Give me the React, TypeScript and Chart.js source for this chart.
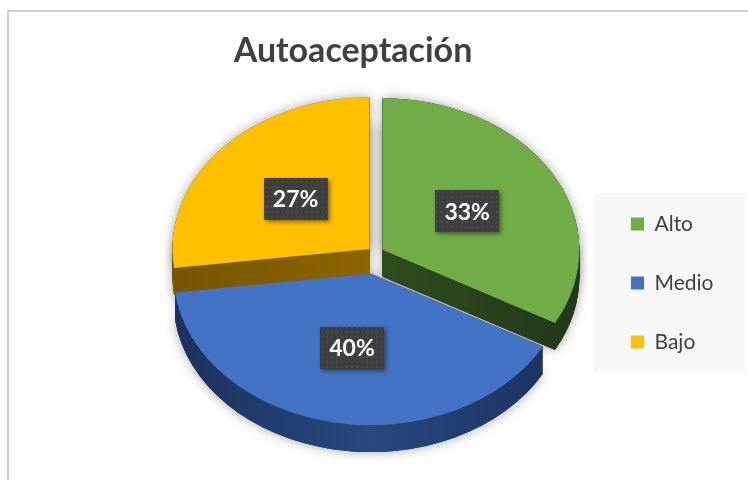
import React, { useEffect, useRef } from "react";
import { Chart, registerables } from "chart.js";

Chart.register(...registerables);

// ---- data ----
const chartTitle = "Autoaceptación";
const categories = ["Alto", "Medio", "Bajo"];
const values = [33, 40, 27];

// ---- styles ----
const topColors = ["#70AD47", "#4472C4", "#FFC000"];
const sideColors = ["#2F4C1D", "#28487F", "#8C6500"];
const sideEdgeColors = ["#22381A", "#1B315E", "#765400"];
const explodePx = [8, 27, 8];
const FONT = "Lato, 'Open Sans', sans-serif";

const legendPanel = {
  id: "legendPanel",
  beforeDraw(chart: any, _a: any, o: any) {
    const lg = chart.legend;
    if (!lg || !lg.legendHitBoxes || !lg.legendHitBoxes.length) return;
    const hb = lg.legendHitBoxes;
    const first = hb[0];
    const last = hb[hb.length - 1];
    const ctx = chart.ctx;
    const x0 = lg.left + o.inset;
    const y0 = first.top - o.padY;
    const y1 = last.top + last.height + o.padY;
    ctx.save();
    ctx.fillStyle = o.color;
    ctx.fillRect(x0, y0, chart.width - o.rightGap - x0, y1 - y0);
    ctx.restore();
  },
};

const fixedTitle = {
  id: "fixedTitle",
  afterDraw(chart: any, _a: any, o: any) {
    const ctx = chart.ctx;
    ctx.save();
    ctx.font = `bold ${o.size}px ${FONT}`;
    ctx.fillStyle = o.color;
    ctx.textAlign = "center";
    ctx.textBaseline = "alphabetic";
    ctx.fillText(o.text, o.x, o.y);
    ctx.restore();
  },
};

let dotPattern: CanvasPattern | null = null;
function getPattern(ctx: CanvasRenderingContext2D) {
  if (dotPattern) return dotPattern;
  const c = document.createElement("canvas");
  c.width = 5;
  c.height = 5;
  const p = c.getContext("2d")!;
  p.fillStyle = "#3E3E3E";
  p.fillRect(0, 0, 5, 5);
  p.fillStyle = "#484848";
  p.fillRect(1, 1, 2, 2);
  dotPattern = ctx.createPattern(c, "repeat");
  return dotPattern;
}

const pie3d = {
  id: "pie3d",
  beforeDatasetsDraw(chart: any, _args: any, o: any) {
    const meta = chart.getDatasetMeta(0);
    const arcs: any[] = meta.data as any[];
    if (!arcs.length) return;
    const ctx: CanvasRenderingContext2D = chart.ctx;
    const cx = arcs[0].x;
    const cy = arcs[0].y;
    const R = arcs[0].outerRadius;
    const midOf = (a: any) => (a.startAngle + a.endAngle) / 2;
    const shiftOf = (a: any, i: number) => [
      Math.cos(midOf(a)) * o.explode[i],
      Math.sin(midOf(a)) * o.explode[i],
    ];
    const project = (px: number, py: number, a: any, i: number) => {
      const [ex, ey] = shiftOf(a, i);
      return [px + ex, cy + (py + ey - cy) * o.squash];
    };
    const paint = (a: any, i: number, dy: number, fill: any, shadow: boolean) => {
      const [ex, ey] = shiftOf(a, i);
      ctx.save();
      if (shadow) {
        ctx.shadowColor = o.shadowColor;
        ctx.shadowBlur = o.shadowBlur;
      }
      ctx.translate(cx, cy + dy);
      ctx.scale(1, o.squash);
      ctx.translate(ex - cx, ey - cy);
      const orig = a.options;
      a.options = { ...orig, backgroundColor: fill, borderWidth: 0, offset: 0, spacing: 0 };
      a.draw(ctx);
      a.options = orig;
      ctx.restore();
    };
    const order = arcs
      .map((_, i) => i)
      .sort((p, q) => Math.sin(midOf(arcs[p])) - Math.sin(midOf(arcs[q])));
    const sideFills = arcs.map((_, i) => {
      const g = ctx.createLinearGradient(cx - R, 0, cx + R, 0);
      g.addColorStop(0, o.sideEdge[i]);
      g.addColorStop(0.5, o.side[i]);
      g.addColorStop(1, o.sideEdge[i]);
      return g;
    });

    // soft shadow
    order.forEach((i) => {
      paint(arcs[i], i, o.depth, o.side[i], true);
      paint(arcs[i], i, 0, o.side[i], true);
    });
    // extruded sides
    for (let d = o.depth; d >= 1; d--) {
      order.forEach((i) => paint(arcs[i], i, d, sideFills[i], false));
    }
    // top faces
    order.forEach((i) => paint(arcs[i], i, 0, arcs[i].options.backgroundColor, false));

    // percentage labels
    const data: number[] = chart.data.datasets[0].data;
    const total = data.reduce((s, v) => s + v, 0);
    arcs.forEach((a, i) => {
      const c = a.getCenterPoint();
      const [lx, ly] = project(c.x, c.y, a, i);
      const w = o.labelW;
      const h = o.labelH;
      ctx.save();
      ctx.shadowColor = "rgba(0,0,0,0.45)";
      ctx.shadowBlur = 4;
      ctx.shadowOffsetX = 2;
      ctx.shadowOffsetY = 2;
      ctx.fillStyle = getPattern(ctx) || "#404040";
      ctx.fillRect(Math.round(lx - w / 2), Math.round(ly - h / 2), w, h);
      ctx.restore();
      ctx.save();
      ctx.font = `bold ${o.labelSize}px ${FONT}`;
      ctx.fillStyle = "#FFFFFF";
      ctx.textAlign = "center";
      ctx.textBaseline = "alphabetic";
      const pct = Math.round((data[i] / total) * 100) + "%";
      ctx.fillText(pct, lx, ly + o.labelSize * 0.36);
      ctx.restore();
    });
    return false;
  },
};

export default function App() {
  const ref = useRef<HTMLCanvasElement | null>(null);

  useEffect(() => {
    if (!ref.current) return;
    const chart = new Chart(ref.current, {
      type: "pie",
      data: {
        labels: categories,
        datasets: [
          {
            data: values,
            backgroundColor: topColors,
            borderWidth: 0,
            radius: 197,
          } as any,
        ],
      },
      options: {
        responsive: false,
        animation: false,
        devicePixelRatio: 1,
        events: [],
        layout: { padding: { left: 158, right: 29, top: 26, bottom: 0 } },
        plugins: {
          tooltip: { enabled: false },
          title: { display: false },
          legend: {
            position: "right",
            maxWidth: 126,
            title: {
              display: true,
              text: "",
              font: { size: 12, lineHeight: 1 },
              padding: { top: 24, bottom: 24 },
            },
            labels: {
              boxWidth: 13,
              boxHeight: 13,
              padding: 38,
              color: "#404040",
              font: { family: FONT, size: 21 },
            },
          },
          pie3d: {
            depth: 27,
            squash: 0.77,
            explode: explodePx,
            side: sideColors,
            sideEdge: sideEdgeColors,
            shadowColor: "rgba(0,0,0,0.35)",
            shadowBlur: 12,
            labelW: 64,
            labelH: 42,
            labelSize: 23,
          },
          legendPanel: { color: "#F8F8F8", inset: 1, padY: 20, rightGap: 3 },
          fixedTitle: { text: chartTitle, x: 353, y: 62, size: 34, color: "#404040" },
        } as any,
      },
      plugins: [legendPanel, pie3d, fixedTitle],
    });
    return () => chart.destroy();
  }, []);

  return (
    <div
      style={{
        position: "fixed",
        left: 0,
        top: 0,
        width: 748,
        height: 480,
        background: "#FFFFFF",
        overflow: "hidden",
      }}
    >
      <div
        style={{
          position: "absolute",
          left: 7,
          top: 10,
          width: 800,
          height: 520,
          border: "2px solid #D0D0D0",
          boxSizing: "border-box",
        }}
      />
      <canvas
        ref={ref}
        width={748}
        height={480}
        style={{ position: "absolute", left: 0, top: 0, display: "block" }}
      />
    </div>
  );
}
